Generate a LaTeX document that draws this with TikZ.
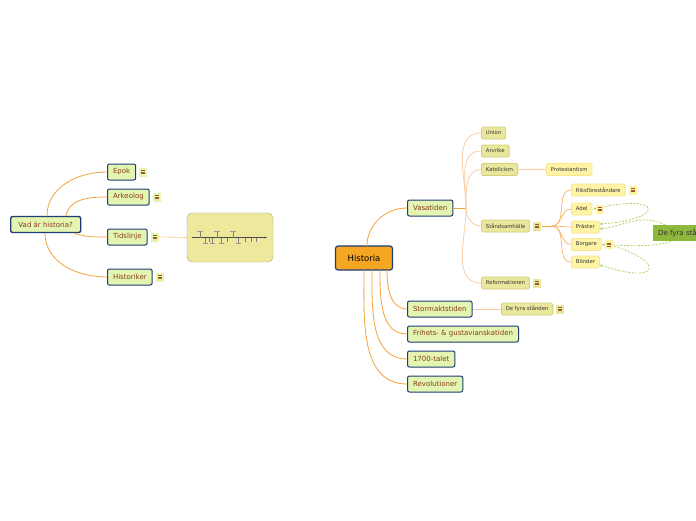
\documentclass[tikz,border=0pt]{standalone}
\usepackage{fontspec}
\setmainfont{DejaVu Sans}
\usetikzlibrary{arrows.meta, positioning, calc}

\definecolor{mainfill}{HTML}{E3F5B0}
\definecolor{mainborder}{HTML}{1E3C78}
\definecolor{maintext}{HTML}{8B3A1E}
\definecolor{rootfill}{HTML}{F5A623}
\definecolor{subfill}{HTML}{E9E79B}
\definecolor{subborder}{HTML}{D4D07A}
\definecolor{leaffill}{HTML}{FFF3A6}
\definecolor{leafborder}{HTML}{F7E68E}
\definecolor{floatfill}{HTML}{8DB83B}
\definecolor{relgreen}{HTML}{B3D36B}
\definecolor{linemain}{HTML}{F4A33A}
\definecolor{linelight}{HTML}{FBC99A}
\definecolor{notelines}{HTML}{9A5A2E}
\definecolor{picfill}{HTML}{EDE89B}
\definecolor{picborder}{HTML}{A8A88A}

\tikzset{
  topic/.style={draw=mainborder, line width=1pt, fill=mainfill, rounded corners=2pt,
    text=maintext, minimum height=16pt, inner xsep=5.5pt, inner ysep=0pt, anchor=west,
    font=\fontsize{7}{8}\selectfont},
  subtopic/.style={draw=subborder, line width=0.8pt, fill=subfill, rounded corners=1.5pt,
    text=black!80, minimum height=12pt, inner xsep=4.5pt, inner ysep=0pt, anchor=west,
    font=\fontsize{5.3}{6}\selectfont},
  leaf/.style={subtopic, draw=leafborder, fill=leaffill},
  notebox/.style={draw=none, fill=mainfill, minimum width=8pt, minimum height=9pt, inner sep=0pt,
    anchor=west,
    path picture={\foreach \k in {-1.6,0,1.6}
      \draw[notelines, line width=0.45pt] ([xshift=-2pt,yshift=\k pt]path picture bounding box.center) -- ++(4pt,0);}},
  subnote/.style={notebox, fill=leaffill},
  branch/.style={linemain, line width=0.8pt},
  twig/.style={linelight, line width=0.7pt},
  rel/.style={relgreen, line width=0.8pt, dash pattern=on 2pt off 1.5pt, arrows={-Stealth[length=3pt,width=3pt]}}
}

\begin{document}
\begin{tikzpicture}[x=1pt, y=-1pt, >=Stealth]
\useasboundingbox (0,0) rectangle (696,520);
\fill[white] (0,0) rectangle (696,520);

% left map
\node[topic, line width=1.4pt, minimum width=70pt] (vad) at (10,224.5) {Vad är historia?};
\node[topic] (epok) at (107,172) {Epok};
\node[topic] (arkeolog) at (107,197) {Arkeolog};
\node[topic] (tidslinje) at (107,237) {Tidslinje};
\node[topic] (historiker) at (107,277) {Historiker};
\node[notebox, right=3pt of epok] (epoknote) {};
\node[notebox, right=3pt of arkeolog] (arknote) {};
\node[notebox, right=3pt of tidslinje] (tidnote) {};
\node[notebox, right=3pt of historiker] (histnote) {};
\node[draw=picborder, fill=picfill, rounded corners=5pt, minimum width=86pt, minimum height=49pt] (tidsbild) at (230,237.5) {};

\draw[branch] (47,216) to[out=90,in=180] (epok.west);
\draw[branch] (66,216) to[out=80,in=180] (arkeolog.west);
\draw[branch] (74,233) to[out=-20,in=180] (tidslinje.west);
\draw[branch] (45,233) to[out=-90,in=180] (historiker.west);
\draw[branch, linemain!60, line width=0.6pt] (tidnote.east) -- (tidsbild.west);

% timeline inside the picture
\draw[black!70, line width=0.5pt, -{Stealth[length=2.5pt]}] (192,237.5) -- (267,237.5);
\foreach \x in {200,217,233} {
  \draw[black!50, line width=0.35pt] (\x,231.5) -- (\x,237.5);
  \draw[black!40, line width=0.5pt] (\x-3,231.5) -- (\x+3,231.5);
}
\foreach \x in {205,212,221,238} {
  \draw[black!50, line width=0.35pt] (\x,237.5) -- (\x,243.5);
  \draw[black!40, line width=0.5pt] (\x-2.5,243.5) -- (\x+2.5,243.5);
}
\foreach \x in {209,227,245,251,256} \draw[black!50, line width=0.35pt] (\x,237.5) -- (\x,242);

% right map
\node[draw=mainborder, line width=1.2pt, fill=rootfill, rounded corners=2.5pt, minimum width=57pt,
  minimum height=24pt, font=\fontsize{8.5}{10}\selectfont] (historia) at (364,258) {Historia};
\node[topic] (vasa) at (407,208) {Vasatiden};
\node[topic] (stormakt) at (407,309) {Stormaktstiden};
\node[topic] (frihet) at (407,334) {Frihets- \& gustavianskatiden};
\node[topic] (sjutton) at (407,359) {1700-talet};
\node[topic] (revolution) at (407,384) {Revolutioner};

\draw[branch] (367,246) to[out=90,in=180] (vasa.west);
\draw[branch] (387,270) to[out=-90,in=180] (stormakt.west);
\draw[branch] (380,270) to[out=-90,in=180] (frihet.west);
\draw[branch] (372,270) to[out=-90,in=180] (sjutton.west);
\draw[branch] (364,270) to[out=-90,in=180] (revolution.west);

% Vasatiden
\node[subtopic] (union) at (481,133) {Union};
\node[subtopic] (arvrike) at (481,151) {Arvrike};
\node[subtopic] (katolicism) at (481,169.5) {Katolicism};
\node[leaf] (protestantism) at (546,169.5) {Protestantism};
\node[subtopic] (stand) at (481,226) {Ståndsamhälle};
\node[subnote, fill=subfill, right=3pt of stand] (standnote) {};
\node[subtopic] (reform) at (481,283) {Reformationen};
\node[subnote, fill=subfill, right=3pt of reform] (reformnote) {};
\coordinate (vasafork) at (466,208);
\coordinate (standfork) at (552,226);

\draw[branch] (vasa.east) -- (vasafork);
\foreach \n in {union, arvrike, katolicism} \draw[twig] (vasafork) to[out=90,in=180] (\n.west);
\foreach \n in {stand, reform} \draw[twig] (vasafork) to[out=-90,in=180] (\n.west);
\draw[twig] (katolicism.east) -- (protestantism.west);

% Ståndsamhälle
\node[leaf] (riks) at (571,190) {Riksföreståndare};
\node[leaf] (adel) at (571,209) {Adel};
\node[leaf] (prast) at (571,227) {Präster};
\node[leaf] (borg) at (571,244.5) {Borgare};
\node[leaf] (bond) at (571,262) {Bönder};
\draw[branch, line width=0.7pt] (standnote.east) -- (standfork);
\foreach \n in {riks, adel, prast, borg, bond} \draw[twig, linemain!80] (standfork) to[out=0,in=180] (\n.west);

% Stormaktstiden
\node[subtopic] (fyra) at (501,309) {De fyra stånden};
\node[subnote, fill=subfill, right=3pt of fyra] (fyranote) {};
\draw[twig] (stormakt.east) -- (fyra.west);

% floating topic and relations
\node[fill=floatfill, anchor=west, minimum height=16pt, inner xsep=5pt, inner ysep=0pt,
  text=black!80, font=\fontsize{7}{8}\selectfont] (fyrafri) at (653,233) {De fyra stånden};

\draw[rel, {Stealth[length=3pt,width=3pt]}-{Stealth[length=3pt,width=3pt]}] ([xshift=1pt]adel.east)
  .. controls (665,192) and (665,220) .. ([yshift=3pt]prast.east);
\draw[rel] ([xshift=12pt]fyrafri.north west) .. controls (640,213) and (625,226) .. ([yshift=-2pt]prast.east);
\draw[rel] ([xshift=18pt]fyrafri.south west) .. controls (655,247) and (630,246) .. (borg.east);
\draw[rel] ([yshift=-2pt]borg.east) ++(13,0) .. controls (665,262) and (660,285) .. ([yshift=-3pt]bond.east);

\node[subnote, right=3pt of riks] (riksnote) {};
\node[subnote, right=3pt of adel] (adelnote) {};
\node[subnote, right=3pt of borg] (borgnote) {};
\end{tikzpicture}
\end{document}
